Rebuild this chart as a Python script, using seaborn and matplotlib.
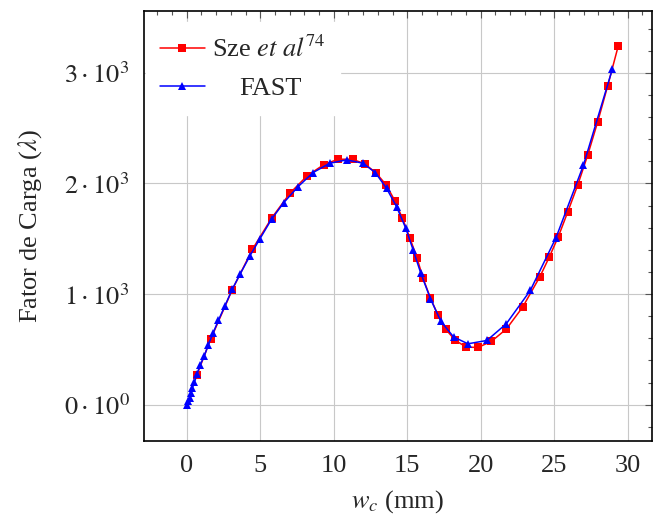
import matplotlib
matplotlib.use("Agg")
import matplotlib.pyplot as plt
from matplotlib.ticker import MultipleLocator, FixedLocator, FixedFormatter
import seaborn as sns
import pandas as pd

# Load factor vs. crack opening w_c (mm)
sze_w = [0.68, 1.63, 3.10, 4.47, 5.77, 7.02, 8.19, 9.33, 10.30, 11.28, 12.11,
         12.88, 13.57, 14.15, 14.67, 15.17, 15.67, 16.07, 16.58, 17.08, 17.62,
         18.28, 19.02, 19.81, 20.72, 21.74, 22.85, 24.03, 24.65, 25.28, 25.92,
         26.60, 27.28, 27.96, 28.64, 29.36]
sze_lam = [265, 593, 1040, 1405, 1686, 1912, 2069, 2171, 2219, 2219, 2177,
           2095, 1987, 1846, 1686, 1511, 1325, 1145, 964, 813, 681,
           581, 521, 518, 572, 684, 882, 1159, 1331, 1520, 1743,
           1987, 2258, 2559, 2884, 3246]

fast_w = [0.0, 0.11, 0.20, 0.29, 0.38, 0.52, 0.70, 0.90, 1.20, 1.47, 1.81,
          2.15, 2.60, 3.10, 3.64, 4.30, 4.98, 5.77, 6.61, 7.58, 8.60, 9.73,
          10.87, 12.00, 12.83, 13.59, 14.27, 14.90, 15.40, 15.92, 16.58,
          17.29, 18.16, 19.13, 20.42, 21.74, 23.37, 25.12, 26.98, 28.95]
fast_lam = [0, 30, 60, 105, 148, 202, 275, 355, 443, 542, 653,
            762, 894, 1045, 1183, 1346, 1500, 1677, 1828, 1972, 2099, 2183,
            2213, 2183, 2098, 1957, 1791, 1596, 1400, 1190, 958,
            753, 612, 551, 581, 732, 1033, 1510, 2163, 3032]

y_ticks = [0, 1000, 2000, 3000]
y_tick_labels = [r"$0\cdot10^{0}$", r"$1\cdot10^{3}$", r"$2\cdot10^{3}$", r"$3\cdot10^{3}$"]
x_ticks = [0, 5, 10, 15, 20, 25, 30]

sns.set_style("white")
plt.rcParams["font.family"] = ["Liberation Serif", "DejaVu Serif"]
plt.rcParams["mathtext.fontset"] = "stix"

sze = pd.DataFrame({"w": sze_w, "lam": sze_lam})
fast = pd.DataFrame({"w": fast_w, "lam": fast_lam})

fig = plt.figure(figsize=(6.53, 5.21), dpi=100)
ax = fig.add_axes([143.5 / 653, 1 - 440.7 / 521, (652 - 143.5) / 653, (440.7 - 11) / 521])

sns.lineplot(data=sze, x="w", y="lam", ax=ax, color="#ff0000", marker="s",
             markersize=5.6, markeredgewidth=0, linewidth=1.1,
             label=r"Sze $\mathit{et\ al}^{74}$", sort=False, zorder=3)
sns.lineplot(data=fast, x="w", y="lam", ax=ax, color="#0000ff", marker="^",
             markersize=5.4, markeredgewidth=0, linewidth=1.1,
             label="FAST", sort=False, zorder=4)

ax.set_xlim(-2.94, 31.65)
ax.set_ylim(-325, 3559)

ax.xaxis.set_major_locator(FixedLocator(x_ticks))
ax.xaxis.set_minor_locator(MultipleLocator(1))
ax.yaxis.set_major_locator(FixedLocator(y_ticks))
ax.yaxis.set_major_formatter(FixedFormatter(y_tick_labels))
ax.yaxis.set_minor_locator(MultipleLocator(200))

ax.grid(True, which="major", color="#c8c8c8", linewidth=0.8)
ax.set_axisbelow(True)

ax.tick_params(which="both", direction="in", top=True, right=True,
               color="#555555", width=0.8)
ax.tick_params(which="major", length=5, labelsize=19, pad=10)
ax.tick_params(which="minor", length=3)
for s in ax.spines.values():
    s.set_color("black")
    s.set_linewidth(1.2)

ax.set_xlabel(r"$w_c$ (mm)", fontsize=19, labelpad=8)
ax.set_ylabel(r"Fator de Carga ($\lambda$)", fontsize=19, labelpad=14)

leg = ax.legend(loc="upper left", bbox_to_anchor=(0.004, 0.975), fontsize=19,
                frameon=True, fancybox=False, edgecolor="white", framealpha=1,
                handlelength=1.7, handletextpad=0.25, labelspacing=0.54,
                borderpad=0.55, borderaxespad=0)
leg.get_texts()[1].set_position((28, 0))

fig.savefig("out.png", dpi=100)
